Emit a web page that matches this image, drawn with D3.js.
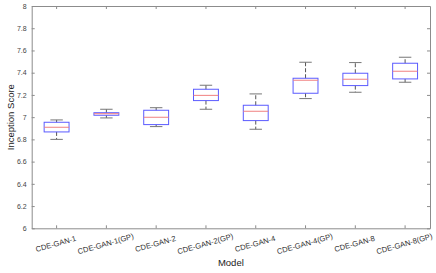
<!DOCTYPE html>
<html>
<head>
<meta charset="utf-8">
<script src="https://cdn.jsdelivr.net/npm/d3@7"></script>
<style>
body { margin: 0; background: #fff; }
text { font-family: "Liberation Sans", Arial, sans-serif; }
</style>
</head>
<body>
<svg id="chart" width="436" height="273"></svg>
<script>
var models = ["CDE-GAN-1", "CDE-GAN-1(GP)", "CDE-GAN-2", "CDE-GAN-2(GP)",
	"CDE-GAN-4", "CDE-GAN-4(GP)", "CDE-GAN-8", "CDE-GAN-8(GP)"];
var whiskerLow = [6.80, 6.993, 6.915, 7.071, 6.891, 7.167, 7.224, 7.314];
var q1 = [6.867, 7.017, 6.933, 7.149, 6.969, 7.215, 7.284, 7.344];
var medians = [6.909, 7.031, 6.999, 7.196, 7.053, 7.332, 7.341, 7.413];
var q3 = [6.954, 7.04, 7.062, 7.251, 7.107, 7.350, 7.395, 7.485];
var whiskerHigh = [6.975, 7.071, 7.085, 7.287, 7.209, 7.494, 7.491, 7.539];
var yTicks = [6, 6.2, 6.4, 6.6, 6.8, 7, 7.2, 7.4, 7.6, 7.8, 8];

var svg = d3.select("#chart");
var mLeft = 31.7, mRight = 430, mTop = 6, mBottom = 228.3;
var axisColor = "#8c8c8c";

var x = d3.scaleBand().domain(models).range([mLeft, mRight]);
var y = d3.scaleLinear().domain([6, 8]).range([mBottom, mTop]);

var boxes = models.map(function(m, i) {
	return { name: m, lo: whiskerLow[i], q1: q1[i], med: medians[i], q3: q3[i], hi: whiskerHigh[i] };
});

// axes
var gx = svg.append("g").attr("transform", "translate(0," + mBottom + ")")
	.call(d3.axisBottom(x).tickSize(-3).tickPadding(0).tickSizeOuter(0));
gx.selectAll("text")
	.attr("y", 0)
	.attr("dy", 0)
	.attr("transform", "translate(0,18) rotate(-16)")
	.style("text-anchor", "middle")
	.style("font-size", "7.6px")
	.style("fill", "#333");

var gy = svg.append("g").attr("transform", "translate(" + mLeft + ",0)")
	.call(d3.axisLeft(y).tickValues(yTicks).tickSize(-3).tickPadding(5).tickSizeOuter(0)
		.tickFormat(d3.format("~g")));
gy.selectAll("text").style("font-size", "7px").style("fill", "#444");

var gt = svg.append("g").attr("transform", "translate(0," + mTop + ")")
	.call(d3.axisTop(x).tickSize(-3).tickFormat("").tickSizeOuter(0));
var gr = svg.append("g").attr("transform", "translate(" + mRight + ",0)")
	.call(d3.axisRight(y).tickValues(yTicks).tickSize(-3).tickFormat("").tickSizeOuter(0));

[gx, gy, gt, gr].forEach(function(g) {
	g.selectAll("path").attr("stroke", axisColor);
	g.selectAll("line").attr("stroke", axisColor);
});

// boxes
var bw = x.bandwidth() * 0.5, cw = x.bandwidth() * 0.25;
var g = svg.append("g").selectAll("g").data(boxes).enter().append("g")
	.attr("transform", function(d) { return "translate(" + (x(d.name) + x.bandwidth() / 2) + ",0)"; });

g.append("line")
	.attr("y1", function(d) { return y(d.q3); })
	.attr("y2", function(d) { return y(d.hi); })
	.attr("stroke", "#555").attr("stroke-dasharray", "4,2");
g.append("line")
	.attr("y1", function(d) { return y(d.q1); })
	.attr("y2", function(d) { return y(d.lo); })
	.attr("stroke", "#555").attr("stroke-dasharray", "4,2");
g.append("line")
	.attr("x1", -cw / 2).attr("x2", cw / 2)
	.attr("y1", function(d) { return y(d.hi); }).attr("y2", function(d) { return y(d.hi); })
	.attr("stroke", "#777");
g.append("line")
	.attr("x1", -cw / 2).attr("x2", cw / 2)
	.attr("y1", function(d) { return y(d.lo); }).attr("y2", function(d) { return y(d.lo); })
	.attr("stroke", "#777");
g.append("rect")
	.attr("x", -bw / 2).attr("width", bw)
	.attr("y", function(d) { return y(d.q3); })
	.attr("height", function(d) { return y(d.q1) - y(d.q3); })
	.attr("fill", "none").attr("stroke", "#5b5bff");
g.append("line")
	.attr("x1", -bw / 2).attr("x2", bw / 2)
	.attr("y1", function(d) { return y(d.med); }).attr("y2", function(d) { return y(d.med); })
	.attr("stroke", "#f08080");

// labels
svg.append("text").attr("x", (mLeft + mRight) / 2).attr("y", 266)
	.attr("text-anchor", "middle").style("font-size", "9.5px").style("fill", "#222").text("Model");
svg.append("text").attr("transform", "translate(14," + ((mTop + mBottom) / 2) + ") rotate(-90)")
	.attr("text-anchor", "middle").style("font-size", "9.5px").style("fill", "#222").text("Inception Score");
</script>
</body>
</html>
